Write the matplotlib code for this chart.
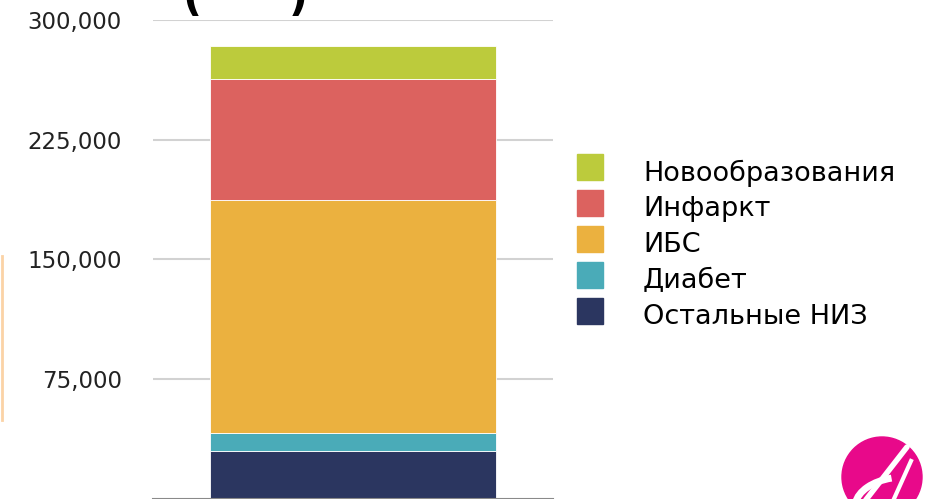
import numpy as np
import matplotlib.pyplot as plt
from matplotlib.patches import Circle, Arc, Rectangle

# stacked causes, bottom to top
causes = ['Остальные НИЗ', 'Диабет', 'ИБС', 'Инфаркт', 'Новообразования']
deaths = [30000, 11000, 146000, 76000, 21000]
colors = ['#2b3660', '#4aabb8', '#ebb13f', '#dc625f', '#bccb3c']
yticks = [75000, 150000, 225000, 300000]

W, H = 930, 499
fig = plt.figure(figsize=(W / 100, H / 100), dpi=100)
ax = fig.add_axes([153/W, 0.5/H, 400/W, 478.5/H])

bottom = 0
for name, val, col in zip(causes, deaths, colors):
    ax.bar(0, val, width=1.0, bottom=bottom, color=col, label=name,
           edgecolor='white', linewidth=0.6)
    bottom += val

ax.set_xlim(-0.70, 0.70)
ax.set_ylim(0, 300000)
ax.set_xticks([])
ax.set_yticks(yticks)
ax.set_yticklabels([f'{t:,}' for t in yticks])
ax.tick_params(axis='y', length=0, pad=22.5, labelsize=16.5, labelcolor='#222222')
ax.grid(axis='y', color='#d2d2d2', linewidth=1.5)
ax.set_axisbelow(True)
for s in ['left', 'right', 'top']:
    ax.spines[s].set_visible(False)
ax.spines['bottom'].set_color('#8a8a8a')
ax.spines['bottom'].set_linewidth(1.5)

# legend on the right, top entry first
for i, (name, col) in enumerate(zip(causes[::-1], colors[::-1])):
    top = 154 + i * 36
    fig.add_artist(Rectangle((577/W, 1 - (top + 26)/H), 26/W, 26/H,
                             transform=fig.transFigure, color=col))
    fig.text(643/W, 1 - (top + 19)/H, name, fontsize=19.5, color='black',
             ha='left', va='center')

# title cut at the top edge
fig.text(183/W, 1 - 11/H, '(      )', fontsize=30, fontweight='bold',
         ha='left', va='baseline')

# thin orange marker on the left edge
fig.add_artist(plt.Line2D([1.5/W, 1.5/W], [1 - 256/H, 1 - 420/H],
                          color='#fbd3a6', linewidth=2))

# logo in the corner
lax = fig.add_axes([835/W, 0, 95/W, 64/H])
lax.set_xlim(0, 95)
lax.set_ylim(0, 64)
lax.set_aspect('equal')
lax.axis('off')
lax.add_patch(Circle((47, 22), 40, color='#e8098a'))
lax.add_patch(Arc((70, -8), 100, 60, theta1=115, theta2=175, color='white', linewidth=5))
lax.plot([30, 72], [-2, 52], color='white', linewidth=4, solid_capstyle='round')
lax.plot([58, 76], [-2, 38], color='white', linewidth=3)

fig.savefig('out.png', dpi=100)
